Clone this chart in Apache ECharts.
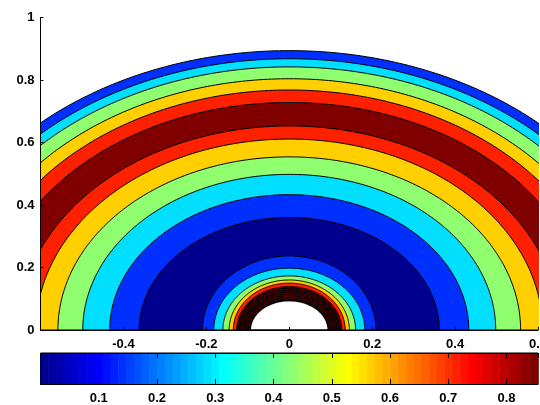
<!DOCTYPE html>
<html>
<head>
<meta charset="utf-8">
<script src="https://cdn.jsdelivr.net/npm/echarts@6/dist/echarts.min.js"></script>
<style>
  html, body { margin: 0; padding: 0; background: #fff; }
  #chart { width: 540px; height: 405px; }
</style>
</head>
<body>
<div id="chart"></div>
<script>
// Contour boundaries of the field, outermost first (half-axes along x and y)
const boundaryRx = [0.894, 0.868, 0.842, 0.804, 0.768, 0.728, 0.653, 0.611, 0.558, 0.498, 0.433, 0.362,
                    0.209, 0.182, 0.160, 0.145, 0.135, 0.127];
const boundaryRy = [0.894, 0.868, 0.842, 0.804, 0.768, 0.728, 0.653, 0.611, 0.554, 0.498, 0.433, 0.360,
                    0.237, 0.198, 0.173, 0.160, 0.150, 0.139];
// Level band enclosed by each boundary (0 = lowest level)
const bandInside = [1, 2, 3, 4, 5, 6, 5, 4, 3, 2, 1, 0, 1, 2, 3, 4, 5, 6];
// Fill colour of each level band
const bandColors = ['#00008F', '#0030FF', '#00DFFF', '#8FFF70', '#FFCF00', '#FF2000', '#800000'];
// Closely packed contour lines next to the obstacle
const nearLineRx = [0.123, 0.119, 0.115, 0.111, 0.107, 0.103, 0.099];
const nearLineRy = [0.134, 0.128, 0.122, 0.116, 0.110, 0.104, 0.098];
// Obstacle radius (no data inside)
const holeRadius = 0.094;
// Axis extents
const xRange = [-0.6, 0.6];
const yRange = [0, 1];
const colorbarRange = [0, 0.854];
const colorbarSteps = 64;

// MATLAB-style jet colormap, row i of n = 64 (1-based)
function jet(i) {
  const r = i < 25 ? 0 : i <= 40 ? (i - 24) / 16 : i <= 56 ? 1 : (64 - i + 8) / 16;
  const g = i < 9 ? 0 : i <= 24 ? (i - 8) / 16 : i <= 40 ? 1 : i <= 55 ? (56 - i) / 16 : 0;
  const b = i <= 8 ? (i + 8) / 16 : i <= 24 ? 1 : i <= 39 ? (40 - i) / 16 : 0;
  const h = v => Math.round(Math.max(0, Math.min(1, v)) * 255);
  return 'rgb(' + h(r) + ',' + h(g) + ',' + h(b) + ')';
}

function halfEllipse(api, rx, ry, n) {
  const pts = [];
  for (let k = 0; k <= n; k++) {
    const t = Math.PI * k / n;
    pts.push(api.coord([rx * Math.cos(t), ry * Math.sin(t)]));
  }
  return pts;
}

const labelFont = { color: '#000', fontFamily: 'Liberation Sans', fontWeight: 'bold', fontSize: 13 };
const blackLine = { show: true, onZero: false, lineStyle: { color: '#000', width: 1 } };

const chart = echarts.init(document.getElementById('chart'), null, { renderer: 'canvas' });
chart.setOption({
  animation: false,
  backgroundColor: '#fff',
  grid: [
    { left: 40.5, right: 2, top: 17.5, bottom: 75, outerBoundsMode: 'none', containLabel: false },
    { left: 40.5, right: 2, top: 353, bottom: 21, outerBoundsMode: 'none', containLabel: false,
      show: true, borderColor: '#000', borderWidth: 1, backgroundColor: 'transparent' }
  ],
  xAxis: [
    {
      gridIndex: 0, type: 'value', min: xRange[0], max: xRange[1], interval: 0.2, position: 'bottom', z: 3,
      axisLine: blackLine,
      axisTick: { show: true, inside: true, length: 3, lineStyle: { color: '#000' } },
      axisLabel: Object.assign({ margin: 8, showMinLabel: false, showMaxLabel: true, alignMaxLabel: 'center', hideOverlap: false }, labelFont),
      splitLine: { show: false }
    },
    {
      gridIndex: 1, type: 'value', min: colorbarRange[0], max: colorbarRange[1], interval: 0.1, position: 'bottom', z: 3,
      axisLine: blackLine,
      axisTick: { show: true, inside: true, length: 5, lineStyle: { color: '#000' } },
      axisLabel: Object.assign({ margin: 8, showMinLabel: false, showMaxLabel: false }, labelFont),
      splitLine: { show: false }
    },
    {
      gridIndex: 1, type: 'value', min: colorbarRange[0], max: colorbarRange[1], interval: 0.1, position: 'top', z: 3,
      axisLine: blackLine,
      axisTick: { show: true, inside: true, length: 5, lineStyle: { color: '#000' } },
      axisLabel: { show: false },
      splitLine: { show: false }
    }
  ],
  yAxis: [
    {
      gridIndex: 0, type: 'value', min: yRange[0], max: yRange[1], interval: 0.2, position: 'left', z: 3,
      axisLine: blackLine,
      axisTick: { show: true, inside: true, length: 3, lineStyle: { color: '#000' } },
      axisLabel: Object.assign({ margin: 6 }, labelFont),
      splitLine: { show: false }
    },
    { gridIndex: 1, type: 'value', min: 0, max: 1, show: false }
  ],
  series: [
    {
      name: 'levels', type: 'custom', xAxisIndex: 0, yAxisIndex: 0, clip: true, silent: true,
      data: boundaryRx.map((rx, i) => [rx, boundaryRy[i], bandInside[i]]),
      renderItem: (params, api) => ({
        type: 'polygon',
        shape: { points: halfEllipse(api, api.value(0), api.value(1), 240) },
        style: { fill: bandColors[api.value(2)], stroke: '#000', lineWidth: 1 }
      })
    },
    {
      name: 'near field', type: 'custom', xAxisIndex: 0, yAxisIndex: 0, clip: true, silent: true,
      data: nearLineRx.map((rx, i) => [rx, nearLineRy[i]]),
      renderItem: (params, api) => ({
        type: 'polyline',
        shape: { points: halfEllipse(api, api.value(0), api.value(1), 120) },
        style: { fill: null, stroke: '#000', lineWidth: 1.3 }
      })
    },
    {
      name: 'obstacle', type: 'custom', xAxisIndex: 0, yAxisIndex: 0, clip: true, silent: true,
      data: [[holeRadius, holeRadius]],
      renderItem: (params, api) => ({
        type: 'polygon',
        shape: { points: halfEllipse(api, api.value(0), api.value(1), 120) },
        style: { fill: '#fff', stroke: '#000', lineWidth: 1.5 }
      })
    },
    {
      name: 'colorbar', type: 'custom', xAxisIndex: 1, yAxisIndex: 1, clip: true, silent: true,
      data: Array.from({ length: colorbarSteps }, (_, i) => [i]),
      renderItem: (params, api) => {
        const i = api.value(0);
        const step = (colorbarRange[1] - colorbarRange[0]) / colorbarSteps;
        const p0 = api.coord([colorbarRange[0] + i * step, 0]);
        const p1 = api.coord([colorbarRange[0] + (i + 1) * step, 1]);
        return {
          type: 'rect',
          shape: { x: p0[0], y: p1[1], width: p1[0] - p0[0] + 0.6, height: p0[1] - p1[1] },
          style: { fill: jet(i + 1) }
        };
      }
    }
  ]
});
</script>
</body>
</html>
